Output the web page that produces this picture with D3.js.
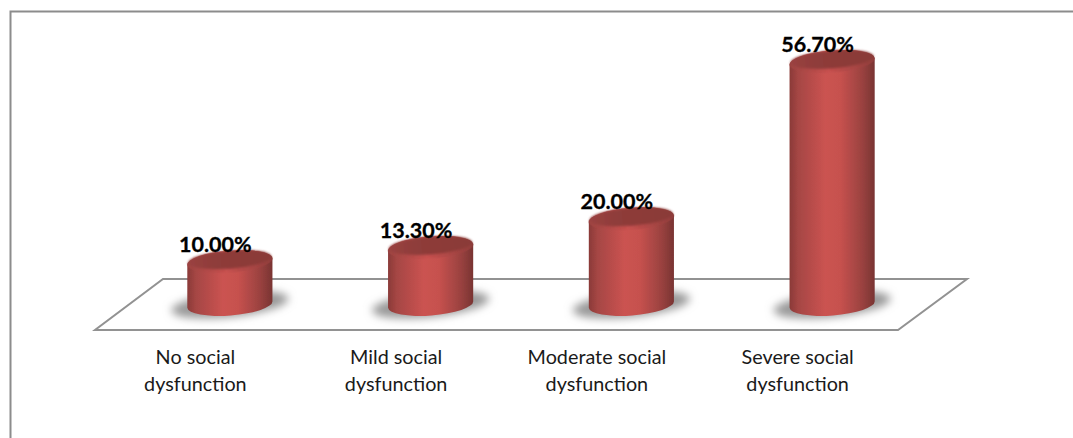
<!DOCTYPE html>
<html>
<head>
<meta charset="utf-8">
<script src="https://cdn.jsdelivr.net/npm/d3@7"></script>
<style>
  html, body { margin: 0; padding: 0; background: #fff; }
  svg { display: block; }
  text { font-family: Lato, "Open Sans", sans-serif; }
</style>
</head>
<body>
<div id="chart"></div>
<script>
const categories = [
    ['No social', 'dysfunction'],
    ['Mild social', 'dysfunction'],
    ['Moderate social', 'dysfunction'],
    ['Severe social', 'dysfunction']
];
const values = [10.0, 13.3, 20.0, 56.7];
const valueLabels = ['10.00%', '13.30%', '20.00%', '56.70%'];

const width = 1073;
const height = 438;

// floor of the 3d plot, the bars stand in the middle of it
const floorLeft = 95, floorRight = 898, floorFront = 330, floorBack = 279, floorSkew = 69;
const baseY = 304.5;
const topY = 61.5;
const rx = 42.7, ry = 11, tilt = -4.5;

const svg = d3.select('#chart').append('svg')
    .attr('width', width)
    .attr('height', height);

const x = d3.scaleBand()
    .domain(d3.range(categories.length))
    .range([floorLeft, floorRight]);

const y = d3.scaleLinear()
    .domain([0, 56.7])
    .range([baseY, topY]);

const defs = svg.append('defs');

const bodyGrad = defs.append('linearGradient').attr('id', 'body-grad');
[[0, '#8a3a38'], [0.1, '#a54644'], [0.42, '#cb5351'], [0.6, '#c6514e'], [0.85, '#9b4240'], [1, '#793432']]
    .forEach(s => bodyGrad.append('stop').attr('offset', s[0]).attr('stop-color', s[1]));

const lipGrad = defs.append('linearGradient').attr('id', 'lip-grad');
[[0, '#9c4341'], [0.45, '#c8514f'], [1, '#8f3d3b']]
    .forEach(s => lipGrad.append('stop').attr('offset', s[0]).attr('stop-color', s[1]));

const topGrad = defs.append('linearGradient').attr('id', 'top-grad');
[[0, '#9a4240'], [0.3, '#8f3c3a'], [1, '#8a3a38']]
    .forEach(s => topGrad.append('stop').attr('offset', s[0]).attr('stop-color', s[1]));

const blur = defs.append('filter').attr('id', 'shadow-blur')
    .attr('x', '-30%').attr('y', '-60%').attr('width', '160%').attr('height', '220%');
blur.append('feGaussianBlur').attr('stdDeviation', 4);

const soft = defs.append('filter').attr('id', 'soft')
    .attr('x', '-10%').attr('y', '-10%').attr('width', '120%').attr('height', '120%');
soft.append('feGaussianBlur').attr('stdDeviation', 0.6);

const softer = defs.append('filter').attr('id', 'softer')
    .attr('x', '-10%').attr('y', '-30%').attr('width', '120%').attr('height', '160%');
softer.append('feGaussianBlur').attr('stdDeviation', 1);

// chart frame, only top and left are visible
svg.append('path')
    .attr('d', `M10.5,${height} V11.5 H${width}`)
    .attr('fill', 'none')
    .attr('stroke', '#8c8c8c')
    .attr('stroke-width', 2);

svg.append('path')
    .attr('d', `M${floorLeft},${floorFront} L${floorRight},${floorFront} L${floorRight + floorSkew},${floorBack} L${floorLeft + floorSkew - 1},${floorBack} Z`)
    .attr('fill', '#fff')
    .attr('stroke', '#929292')
    .attr('stroke-width', 2);

const bars = svg.selectAll('.bar')
    .data(values)
    .join('g')
    .attr('class', 'bar')
    .attr('transform', (d, i) => `translate(${x(i) + x.bandwidth() / 2 + floorSkew / 2},0)`);

bars.append('ellipse')
    .attr('cx', 0)
    .attr('cy', baseY)
    .attr('rx', rx + 16)
    .attr('ry', ry + 1.5)
    .attr('transform', `rotate(-6 0 ${baseY})`)
    .attr('fill', '#989898')
    .attr('filter', 'url(#shadow-blur)');

const sinT = Math.sin(tilt * Math.PI / 180) * rx;
const cosT = Math.cos(tilt * Math.PI / 180) * rx;

bars.append('path')
    .attr('d', d => {
        const yt = y(d);
        return `M${-cosT},${baseY - sinT} A${rx},${ry} ${tilt} 0 0 ${cosT},${baseY + sinT}` +
            ` L${cosT},${yt + sinT} A${rx},${ry} ${tilt} 0 0 ${-cosT},${yt - sinT} Z`;
    })
    .attr('fill', 'url(#body-grad)')
    .attr('filter', 'url(#soft)');

// lighter lip under the top face
bars.append('ellipse')
    .attr('cy', d => y(d))
    .attr('rx', rx)
    .attr('ry', ry)
    .attr('transform', d => `rotate(${tilt} 0 ${y(d)})`)
    .attr('fill', 'url(#lip-grad)')
    .attr('filter', 'url(#soft)');

bars.append('ellipse')
    .attr('cy', d => y(d) - 2)
    .attr('rx', rx - 1)
    .attr('ry', ry - 2)
    .attr('transform', d => `rotate(${tilt} 0 ${y(d)})`)
    .attr('fill', 'url(#top-grad)')
    .attr('filter', 'url(#softer)');

bars.append('text')
    .attr('x', -14.5)
    .attr('y', d => y(d) - 9.5)
    .attr('text-anchor', 'middle')
    .attr('font-size', 21.5)
    .attr('font-weight', 700)
    .attr('fill', '#000')
    .attr('stroke', '#000')
    .attr('stroke-width', 0.3)
    .text((d, i) => valueLabels[i]);

const labels = svg.selectAll('.cat')
    .data(categories)
    .join('text')
    .attr('class', 'cat')
    .attr('text-anchor', 'middle')
    .attr('font-size', 19.8)
    .attr('fill', '#1a1a1a');

labels.selectAll('tspan')
    .data((d, i) => d.map(line => ({ line, i })))
    .join('tspan')
    .attr('x', d => x(d.i) + x.bandwidth() / 2)
    .attr('y', (d, j) => 363.5 + j * 27)
    .text(d => d.line);
</script>
</body>
</html>
